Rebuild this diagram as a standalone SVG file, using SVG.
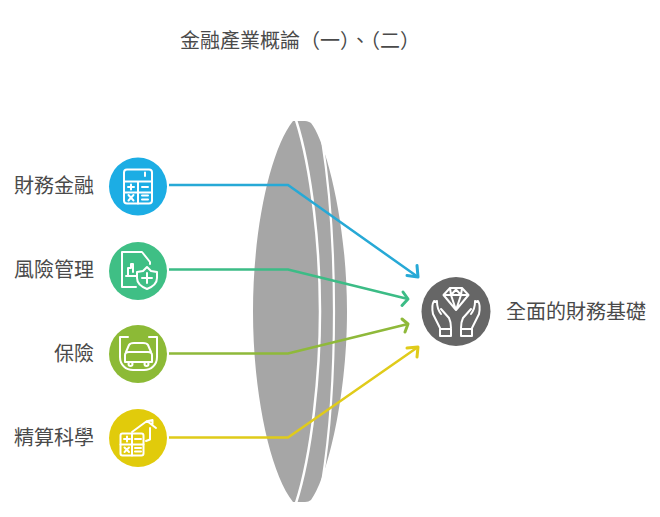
<svg xmlns="http://www.w3.org/2000/svg" width="660" height="517" viewBox="0 0 660 517">
<defs>
<style>
text{font-family:"Noto Sans CJK TC","Noto Sans CJK SC","Liberation Sans",sans-serif;font-size:20px;fill:#4a4a4a}
.i{fill:none;stroke:#fff;stroke-width:2;stroke-linejoin:round;stroke-linecap:round}
.c{fill:none;stroke-width:2.500}
.a{fill:none;stroke-width:3;stroke-linecap:round;stroke-linejoin:round}
</style>
</defs>
<rect width="660" height="517" fill="#fff"/>
<text x="180" y="48">金融產業概論（一）、（二）</text>
<g id="lens">
<path d="M293 121C270 150 253 230 253 311.500S270 473 293 502H305C308 502 309 501 311 500C325 483 347 403 347 311.500C347 220 325 140 311 123C309 122 308 121 305 121Z" fill="#a6a6a6"/>
<path d="M296 120C312 170 320 250 320 311.500S312 453 296 503" fill="none" stroke="#fff" stroke-width="2.500"/>
<path d="M322 140C330 190 334 250 334 311.500S330 433 322 483" fill="none" stroke="#fff" stroke-width="2.200"/>
</g>
<g id="connectors">
<path class="c" stroke="#27a9d6" d="M169 185H288L418 277"/><path class="a" stroke="#27a9d6" d="M407 275.500L418 277L417 265.500"/>
<path class="c" stroke="#3cbc86" d="M169 269.500H288L408 299"/><path class="a" stroke="#3cbc86" d="M402 305.500L408 299L403 292"/>
<path class="c" stroke="#8fb93a" d="M169 353.500H288L408 324"/><path class="a" stroke="#8fb93a" d="M405 332L408 324L402 319"/>
<path class="c" stroke="#e0cb1a" d="M169 437.500H288L418 347"/><path class="a" stroke="#e0cb1a" d="M417 357L418 347L407 348"/>
</g>
<g id="n1"><circle cx="138" cy="186.500" r="29" fill="#1cade4"/>
<g class="i"><rect x="124" y="169.500" width="28" height="34" rx="3"/><path d="M124 181.500H152M124 192.500H152M138 181.500V203.500M128 187H134M131 184.500V189.500M142 187H148M128.500 195L133.500 200.500M133.500 195L128.500 200.500M142 195.500H148M142 199.500H148M145 172.500V176"/></g>
<text x="14" y="193">財務金融</text></g>
<g id="n2"><circle cx="138" cy="271" r="29" fill="#3fbf85"/>
<g class="i"><path d="M136 287H122V252H142L150 262V264"/><path d="M126 276H136M128 276V268H131V264H133V272"/><path d="M147 267L151 271L157 272V278C157 284 152 287 147 289C142 287 137 284 137 278V272L143 271Z"/><path d="M147 273V283M142 278H152"/></g>
<text x="14" y="277">風險管理</text></g>
<g id="n3"><circle cx="138" cy="354" r="29" fill="#8cba36"/>
<g class="i"><path d="M128 337H120V357C120 365 126 370 133 370H144C151 370 157 365 157 357V337H149"/><path d="M126 352L129 345C130 343 132 343 134 343H143C145 343 147 343 148 345L151 352M125 355C125 353 127 352 129 352H148C150 352 152 353 152 355V362H125Z"/><circle cx="130.500" cy="364" r="2"/><circle cx="146.500" cy="364" r="2"/></g>
<text x="54" y="361">保險</text></g>
<g id="n4"><circle cx="138" cy="438" r="29" fill="#e1cb0b"/>
<g class="i"><rect x="120.500" y="433.500" width="23" height="22" rx="2"/><path d="M132 433.500V455.500M120.500 444.500H143.500M124 439H130M127 436.500V441.500M135 439H141M124.500 447.500L129 452M129 447.500L124.500 452M135 448H141M135 451.500H141"/><path d="M132 432L147 421L156 428M148 421L152.500 420V424M150 428V439.500L146 441"/></g>
<text x="14" y="445">精算科學</text></g>
<g id="n5"><circle cx="456" cy="311.500" r="34.500" fill="#666"/>
<g class="i"><path d="M450 288H462L468.500 295L456 310L443.500 295ZM443.500 295H468.500M451 295L456 310L461 295M450 288L451 295L456 289.500L461 295L462 288"/>
<path d="M440 328L433 314C432 309 432 304 434 301L437 302C437 306 438 310 441 314M435 302L437 301M441 309L449 318C451 322 451 325 451 328"/><path d="M440 329H451V336H440Z"/>
<path d="M472 328L479 314C480 309 480 304 478 301L475 302C475 306 474 310 471 314M477 302L475 301M471 309L463 318C461 322 461 325 461 328"/><path d="M461 329H472V336H461Z"/></g>
<text x="506" y="319">全面的財務基礎</text></g>
</svg>
